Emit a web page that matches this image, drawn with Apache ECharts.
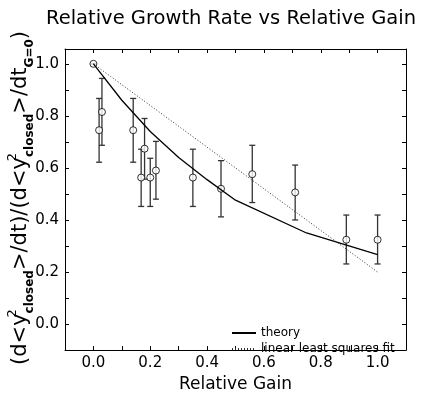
<!DOCTYPE html>
<html>
<head>
<meta charset="utf-8">
<script src="https://cdn.jsdelivr.net/npm/echarts@6/dist/echarts.min.js"></script>
<style>html,body{margin:0;padding:0;background:#fff}#c{width:433px;height:398px}</style>
</head>
<body>
<div id="c"></div>
<script>
// ---- data ----
var pointGain  = [0.00, 0.02, 0.03, 0.14, 0.18, 0.168, 0.20, 0.22, 0.35, 0.449, 0.559, 0.71, 0.89, 1.00];
var pointRatio = [1.00, 0.745, 0.815, 0.745, 0.674, 0.563, 0.563, 0.59, 0.563, 0.52, 0.576, 0.506, 0.324, 0.324];
var errLower   = [1.00, 0.622, 0.687, 0.622, 0.557, 0.452, 0.452, 0.48, 0.452, 0.412, 0.467, 0.40, 0.231, 0.231];
var errUpper   = [1.00, 0.867, 0.944, 0.867, 0.79, 0.672, 0.637, 0.702, 0.672, 0.628, 0.687, 0.611, 0.419, 0.419];
var theoryGain  = [0.0, 0.1, 0.2, 0.3, 0.4, 0.5, 0.75, 1.0];
var theoryRatio = [1.0, 0.86, 0.74, 0.64, 0.555, 0.476, 0.35, 0.267];
var fitGain  = [0.0, 1.0];
var fitRatio = [1.0, 0.2];
var xLabelValues = [0.0, 0.2, 0.4, 0.6, 0.8, 1.0];
var xTickValues  = [0.0, 0.1, 0.2, 0.3, 0.4, 0.5, 0.6, 0.7, 0.8, 0.9, 1.0];
var yLabelValues = [0.0, 0.2, 0.4, 0.6, 0.8, 1.0];
var yTickValues  = [0.0, 0.1, 0.2, 0.3, 0.4, 0.5, 0.6, 0.7, 0.8, 0.9, 1.0];
var titleText = 'Relative Growth Rate vs Relative Gain';
var xName = 'Relative Gain';
var seriesNames = ['theory', 'linear least squares fit'];

var FONT = 'DejaVu Sans';
function zip(a, b) { return a.map(function (v, i) { return [v, b[i]]; }); }
var errData = pointGain.map(function (g, i) { return [g, errLower[i], errUpper[i]]; });

var chart = echarts.init(document.getElementById('c'), null, {renderer: 'canvas'});
var axisLineStyle = {color: '#000', width: 1};
function xAx(pos, show) {
  return {
    type: 'value', min: -0.1, max: 1.1, position: pos,
    axisLine: {show: true, lineStyle: axisLineStyle, onZero: false},
    axisTick: {show: true, inside: true, length: 4, lineStyle: {color: '#000'}, customValues: xTickValues},
    axisLabel: {show: show, customValues: xLabelValues, formatter: function (v) { return v.toFixed(1); },
      fontFamily: FONT, fontSize: 15, color: '#000', margin: 6},
    splitLine: {show: false},
    name: show ? xName : '', nameLocation: 'middle', nameGap: 21,
    nameTextStyle: {fontFamily: FONT, fontSize: 17, color: '#000'}
  };
}
function yAx(pos, show) {
  return {
    type: 'value', min: -0.1, max: 1.057, position: pos,
    axisLine: {show: true, lineStyle: axisLineStyle, onZero: false},
    axisTick: {show: true, inside: true, length: 4, lineStyle: {color: '#000'}, customValues: yTickValues},
    axisLabel: {show: show, customValues: yLabelValues, formatter: function (v) { return v.toFixed(1); },
      fontFamily: FONT, fontSize: 15, color: '#000', margin: 6},
    splitLine: {show: false}
  };
}

var yLabel = '(d<y{sup|2}{sub|closed}>/dt)/(d<y{sup|2}{sub|closed}>/dt{sub|G=0})';

chart.setOption({
  animation: false,
  backgroundColor: '#fff',
  title: {text: titleText, left: 41, top: 4,
    textStyle: {fontFamily: FONT, fontSize: 19.5, fontWeight: 'normal', color: '#000'}},
  grid: {left: 65, right: 27, top: 49, bottom: 39},
  xAxis: [xAx('bottom', true), xAx('top', false)],
  yAxis: [yAx('left', true), yAx('right', false)],
  legend: {
    data: seriesNames, orient: 'vertical', left: 226, top: 322, itemGap: 4,
    itemWidth: 24, itemHeight: 10,
    itemStyle: {opacity: 0},
    textStyle: {fontFamily: FONT, fontSize: 12, color: '#000'}
  },
  graphic: [{
    type: 'text', x: 21, y: 198, rotation: Math.PI / 2,
    style: {
      text: yLabel, fontFamily: FONT, fontSize: 21, fill: '#000',
      align: 'center', verticalAlign: 'middle', textAlign: 'center', textVerticalAlign: 'middle',
      lineHeight: 30,
      rich: {
        sup: {fontFamily: FONT, fontSize: 13, width: 0, align: 'left', verticalAlign: 'top', lineHeight: 30, fill: '#000'},
        sub: {fontFamily: FONT, fontSize: 12, fontWeight: 'bold', verticalAlign: 'bottom', lineHeight: 30, fill: '#000'}
      }
    }
  }],
  series: [
    {
      type: 'custom', name: 'err', xAxisIndex: 0, yAxisIndex: 0, z: 2, silent: true,
      data: errData,
      renderItem: function (params, api) {
        var x = api.value(0);
        var lo = api.coord([x, api.value(1)]);
        var hi = api.coord([x, api.value(2)]);
        var cw = 3;
        var st = {stroke: '#333', lineWidth: 1.3};
        return {type: 'group', children: [
          {type: 'line', shape: {x1: lo[0], y1: lo[1], x2: hi[0], y2: hi[1]}, style: st},
          {type: 'line', shape: {x1: lo[0] - cw, y1: lo[1], x2: lo[0] + cw, y2: lo[1]}, style: st},
          {type: 'line', shape: {x1: hi[0] - cw, y1: hi[1], x2: hi[0] + cw, y2: hi[1]}, style: st}
        ]};
      }
    },
    {
      type: 'scatter', name: 'data', z: 3, symbol: 'circle', symbolSize: 7,
      itemStyle: {color: '#fff', borderColor: '#000', borderWidth: 1},
      data: zip(pointGain, pointRatio)
    },
    {
      type: 'line', name: seriesNames[0], z: 4, symbol: 'none', showSymbol: false,
      lineStyle: {color: '#000', width: 1.3, type: 'solid'}, itemStyle: {color: '#000'},
      data: zip(theoryGain, theoryRatio)
    },
    {
      type: 'line', name: seriesNames[1], z: 4, symbol: 'none', showSymbol: false,
      lineStyle: {color: '#333', width: 1, type: [1, 2]}, itemStyle: {color: '#333'},
      data: zip(fitGain, fitRatio)
    }
  ]
});
</script>
</body>
</html>
